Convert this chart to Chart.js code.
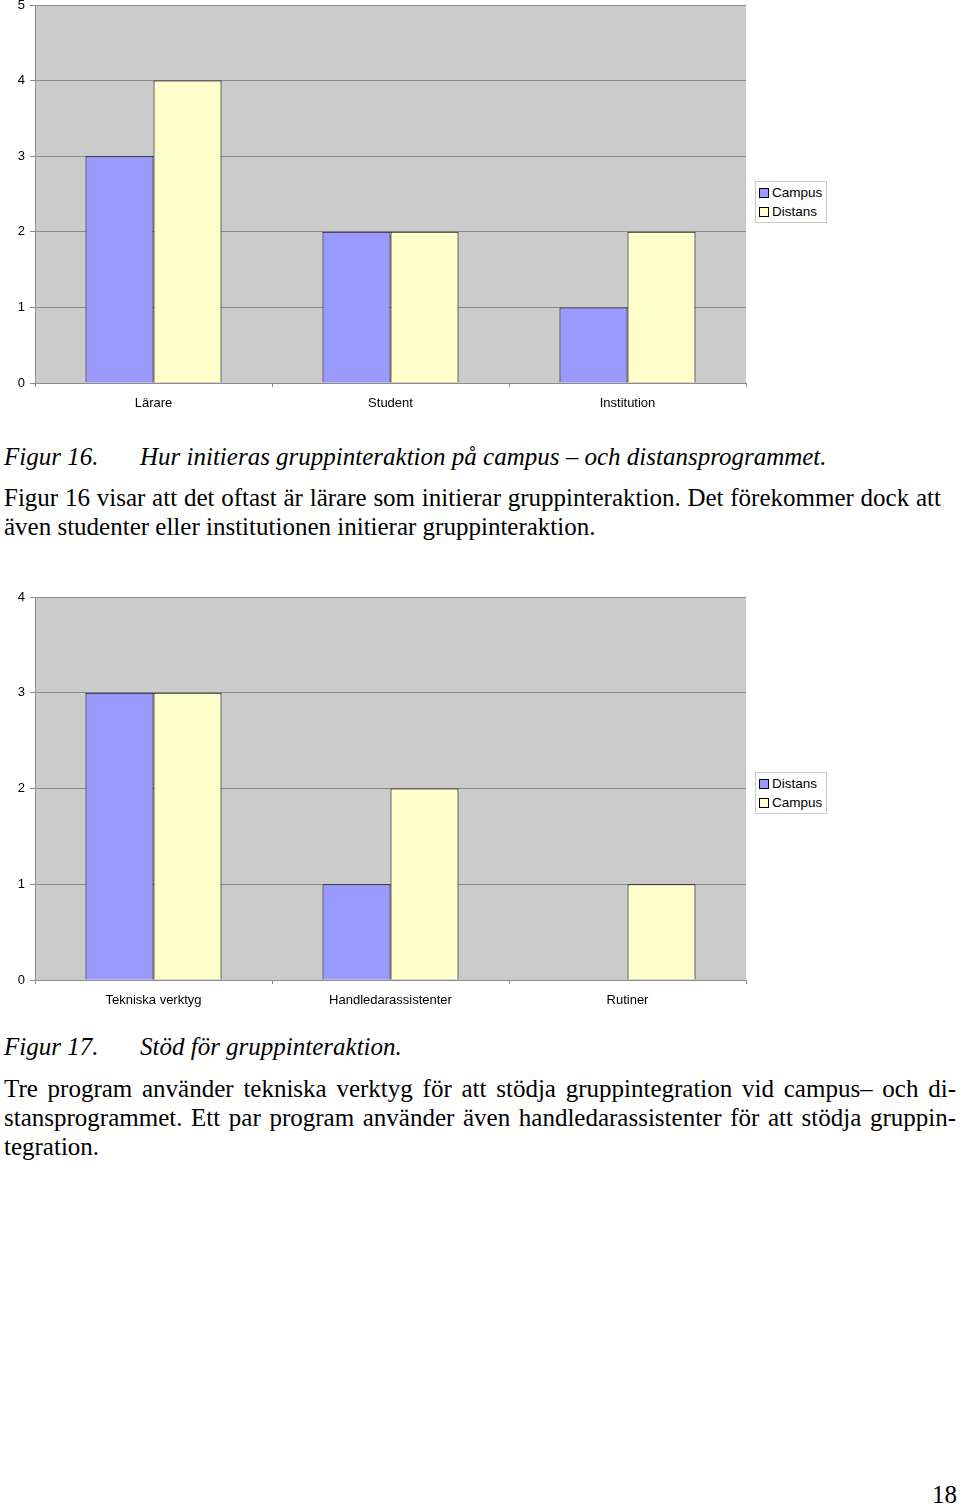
<!DOCTYPE html>
<html>
<head>
<meta charset="utf-8">
<script src="https://cdn.jsdelivr.net/npm/chart.js@4"></script>
<style>
  body { margin: 0; background: #fff; width: 960px; height: 1505px; position: relative; overflow: hidden; }
  .box { position: absolute; left: 0; width: 750px; }
  .ln { position: absolute; white-space: nowrap; font-family: "Liberation Serif", "Times New Roman", serif; font-size: 25px; line-height: 28px; color: #000; }
  .just { text-align: justify; text-align-last: justify; }
  .it { font-style: italic; }
  .legend { position: absolute; left: 755px; width: 70px; border: 1px solid #c8c8c8; background: #fff;
    font-family: "Liberation Sans", Arial, sans-serif; font-size: 13.5px; padding: 1px 0; }
  .legend div { height: 19px; line-height: 19px; padding-left: 16px; position: relative; }
  .legend span { position: absolute; left: 3px; top: 5px; width: 8px; height: 8px; border: 1px solid #000; }
</style>
</head>
<body>

<div class="box" style="top:0px;height:415px"><canvas id="chart16"></canvas></div>
<div class="legend" id="legend16" style="top:181px"></div>

<div class="ln it" style="left:4px;top:443px">Figur 16.</div>
<div class="ln it" style="left:140px;top:443px">Hur initieras gruppinteraktion på campus – och distansprogrammet.</div>
<div class="ln just" style="left:4px;top:484px;width:937px">Figur 16 visar att det oftast är lärare som initierar gruppinteraktion. Det förekommer dock att</div>
<div class="ln" style="left:4px;top:513px">även studenter eller institutionen initierar gruppinteraktion.</div>

<div class="box" style="top:592px;height:420px"><canvas id="chart17"></canvas></div>
<div class="legend" id="legend17" style="top:772px"></div>

<div class="ln it" style="left:4px;top:1033px">Figur 17.</div>
<div class="ln it" style="left:140px;top:1033px">Stöd för gruppinteraktion.</div>
<div class="ln just" style="left:4px;top:1075px;width:952px">Tre program använder tekniska verktyg för att stödja gruppintegration vid campus– och di-</div>
<div class="ln just" style="left:4px;top:1104px;width:952px">stansprogrammet. Ett par program använder även handledarassistenter för att stödja gruppin-</div>
<div class="ln" style="left:4px;top:1133px">tegration.</div>

<div class="ln" style="left:932px;top:1481px">18</div>

<script>
// Figur 16
const categories16 = ["Lärare", "Student", "Institution"];
const campus16 = [3, 2, 1];
const distans16 = [4, 2, 2];
const ticks16 = [0, 1, 2, 3, 4, 5];

// Figur 17
const categories17 = ["Tekniska verktyg", "Handledarassistenter", "Rutiner"];
const distans17 = [3, 1, 0];
const campus17 = [3, 2, 1];
const ticks17 = [0, 1, 2, 3, 4];

const BLUE = "#9999ff";
const CREAM = "#ffffcc";

Chart.defaults.font.family = '"Liberation Sans", Arial, sans-serif';
Chart.defaults.font.size = 13;
Chart.defaults.color = "#000";

var plotBg = {
  id: "plotBg",
  beforeDraw: function (chart) {
    var a = chart.chartArea;
    var ctx = chart.ctx;
    ctx.save();
    ctx.fillStyle = "#cbcbcb";
    ctx.fillRect(a.left, a.top, a.right - a.left, a.bottom - a.top);
    ctx.restore();
  },
};

function makeChart(id, labels, sets, tickVals) {
  var max = tickVals[tickVals.length - 1];
  return new Chart(document.getElementById(id), {
    type: "bar",
    data: {
      labels: labels,
      datasets: sets.map(function (s) {
        return {
          label: s.label,
          data: s.data,
          backgroundColor: s.color,
          borderColor: "#000",
          borderWidth: 1,
          categoryPercentage: 0.574,
          barPercentage: 1,
        };
      }),
    },
    options: {
      responsive: true,
      maintainAspectRatio: false,
      animation: false,
      layout: { padding: { top: 5, right: 4, left: 0, bottom: 0 } },
      plugins: { legend: { display: false }, tooltip: { enabled: false } },
      scales: {
        x: {
          grid: { drawOnChartArea: false, tickLength: 4, color: "#8c8c8c" },
          border: { color: "#8c8c8c" },
          ticks: { padding: 9, maxRotation: 0 },
          afterFit: function (s) { s.height = 32; },
        },
        y: {
          min: 0,
          max: max,
          grid: { color: "#8c8c8c", tickLength: 5 },
          border: { color: "#8c8c8c" },
          ticks: { stepSize: 1, padding: 5 },
          afterBuildTicks: function (s) {
            s.ticks = tickVals.map(function (v) { return { value: v }; });
          },
          afterFit: function (s) {
            s.width = 35;
            s.paddingTop = 0;
            s.paddingBottom = 0;
          },
        },
      },
    },
    plugins: [plotBg],
  });
}

function makeLegend(id, sets) {
  var box = document.getElementById(id);
  sets.forEach(function (s) {
    var row = document.createElement("div");
    var sw = document.createElement("span");
    sw.style.background = s.color;
    row.appendChild(sw);
    row.appendChild(document.createTextNode(s.label));
    box.appendChild(row);
  });
}

var sets16 = [
  { label: "Campus", data: campus16, color: BLUE },
  { label: "Distans", data: distans16, color: CREAM },
];
var sets17 = [
  { label: "Distans", data: distans17, color: BLUE },
  { label: "Campus", data: campus17, color: CREAM },
];

makeChart("chart16", categories16, sets16, ticks16);
makeChart("chart17", categories17, sets17, ticks17);
makeLegend("legend16", sets16);
makeLegend("legend17", sets17);
</script>
</body>
</html>
